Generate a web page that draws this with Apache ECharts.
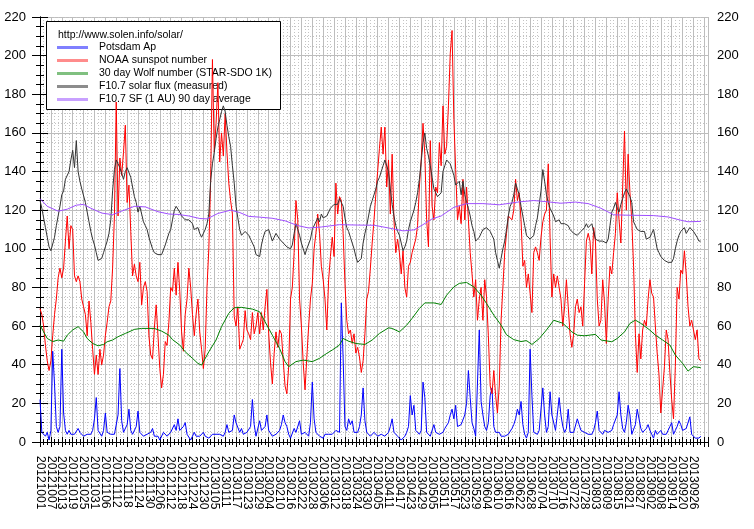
<!DOCTYPE html>
<html>
<head>
<meta charset="utf-8">
<title>Solar data</title>
<script src="https://cdn.jsdelivr.net/npm/echarts@6.0.0/dist/echarts.min.js"></script>
<style>
  html, body { margin: 0; padding: 0; background: #fff; }
  #chart { width: 754px; height: 529px; }
</style>
</head>
<body>
<div id="chart"></div>
<script>
// x tick labels, one every 6 days starting 20121001
const tickLabels = [
  '20121001','20121007','20121013','20121019','20121025','20121031','20121106','20121112','20121118','20121124',
  '20121130','20121206','20121212','20121218','20121224','20121230','20130105','20130111','20130117','20130123',
  '20130129','20130204','20130210','20130216','20130222','20130228','20130306','20130312','20130318','20130324',
  '20130330','20130405','20130411','20130417','20130423','20130429','20130505','20130511','20130517','20130523',
  '20130529','20130604','20130610','20130616','20130622','20130628','20130704','20130710','20130716','20130722',
  '20130728','20130803','20130809','20130815','20130821','20130827','20130902','20130908','20130914','20130920',
  '20130926'
];

const seriesNames = [
  'Potsdam Ap',
  'NOAA sunspot number',
  '30 day Wolf number (STAR-SDO 1K)',
  'F10.7 solar flux (measured)',
  'F10.7 SF (1 AU) 90 day average'
];

// daily values, day 0 = 20121001
const potsdamAp = [
  22,5,4,3,5,1,6,47,30,8, 5,8,48,15,6,4,6,4,3,4,
  5,7,5,4,3,4,4,3,4,6, 12,23,6,5,3,6,15,5,4,4,
  5,4,5,14,38,11,5,6,9,17, 6,4,5,8,16,5,4,3,3,4,
  3,5,7,3,2,3,1,2,5,4, 3,4,5,6,9,6,12,6,5,8,
  10,4,3,1,3,5,3,2,3,4, 5,3,2,2,3,4,3,4,5,4,
  3,3,5,9,5,4,6,14,10,9, 5,7,4,3,5,5,8,22,9,3,
  2,11,6,5,8,14,6,5,3,2, 4,5,6,9,14,10,8,4,2,3,
  7,5,6,11,4,3,5,4,3,10, 31,12,5,4,3,2,2,4,5,4,
  3,4,5,6,7,5,72,43,8,6, 12,9,11,5,4,5,8,14,28,11,
  5,4,3,4,5,4,3,3,4,5, 3,4,5,8,12,5,4,3,2,1,
  2,3,5,8,24,14,19,6,5,4, 6,31,23,5,4,3,4,9,5,4,
  4,5,5,7,6,10,14,17,12,19, 8,7,9,10,14,20,37,23,10,7,
  3,2,58,21,14,8,6,10,24,28, 8,5,4,5,3,2,3,3,4,5,
  7,9,12,17,14,21,9,4,2,5, 48,24,5,4,4,6,7,28,14,5,
  8,26,14,14,6,5,23,14,8,5, 7,17,5,5,5,6,12,9,6,5,
  5,4,4,5,4,6,10,16,6,5, 4,6,5,5,4,6,9,10,14,26,
  14,7,5,10,19,14,4,5,9,17, 12,7,5,6,7,9,6,4,2,6,
  4,3,6,4,3,4,6,8,10,4, 6,8,11,9,6,5,7,6,13,4,
  3,2,2,2,3
];

const sunspotNumber = [
  69,66,60,50,42,37,42,55,66,74, 85,90,85,90,104,117,100,112,110,86,
  83,86,83,74,70,66,55,73,62,48, 35,45,35,48,40,45,55,62,70,73,
  90,117,176,117,147,138,150,164,124,133, 109,86,92,86,83,93,71,80,83,78,
  55,45,43,59,71,55,38,28,35,52, 50,62,80,78,90,76,93,78,57,47,
  66,74,90,80,66,55,66,74,57,48, 38,48,80,100,135,198,150,165,186,145,
  160,148,170,150,134,125,118,65,60,70, 48,49,53,68,58,56,53,67,56,60,
  67,56,67,58,70,79,56,41,30,46, 57,49,58,56,42,29,25,39,74,80,
  98,125,115,74,60,41,27,44,60,74, 82,100,108,118,108,91,84,74,58,84,
  96,106,96,134,118,127,125,108,82,63, 56,58,51,56,46,49,44,36,42,56,
  74,78,90,103,115,128,140,152,163,149, 163,132,146,118,149,115,98,105,98,87,
  99,80,75,91,93,98,99,105,112,132, 146,165,149,115,101,156,122,115,132,129,
  155,143,174,149,153,174,201,213,167,141, 115,122,113,136,115,132,115,98,87,75,
  84,63,74,80,63,84,75,55,29,25, 37,24,15,29,63,80,98,108,117,118,
  115,120,136,125,129,115,91,94,80,87, 77,67,98,101,98,94,106,114,118,120,
  144,106,75,87,80,86,87,74,60,70, 84,70,56,49,56,70,74,67,70,60,
  82,104,108,104,87,111,104,74,60,63, 84,72,51,74,91,87,98,108,129,115,
  103,132,161,120,149,129,115,91,56,36, 56,43,58,63,60,74,84,77,75,60,
  46,35,15,27,39,58,53,36,22,12, 39,80,74,89,87,99,87,70,60,63,
  58,53,58,43,42
];

const solarFlux = [
  125,121,116,111,106,101,99,100,106,112, 117,122,128,130,136,135,140,146,151,142,
  156,140,135,131,130,124,119,114,109,105, 102,98,94,93,95,98,101,104,108,115,
  130,141,146,144,142,141,136,140,142,141, 137,132,127,124,119,122,118,114,112,110,
  106,103,100,98,97,97,97,97,98,102, 105,108,110,115,120,122,121,119,117,116,
  115,116,115,114,113,110,109,111,108,106, 105,110,113,118,135,144,150,157,163,167,
  171,174,171,164,158,153,143,134,122,116, 110,107,108,109,110,107,105,103,101,97,
  96,96,102,106,109,110,110,107,104,106, 108,107,105,104,103,102,101,100,100,102,
  108,113,110,107,103,100,97,100,100,105, 110,111,114,116,114,118,116,115,117,119,
  121,122,123,123,123,126,124,122,116,111, 109,106,103,100,96,93,93,95,103,108,
  112,117,122,125,128,131,135,137,140,143, 146,147,140,131,123,117,112,109,107,103,
  99,101,104,110,114,117,120,124,129,136, 145,155,160,152,148,143,137,131,129,127,
  128,129,140,143,146,145,144,141,138,133, 132,135,128,135,128,124,121,117,112,109,
  104,105,106,108,110,111,111,110,109,107, 105,98,94,90,95,100,104,110,117,122,
  124,128,134,131,128,122,117,112,107,106, 105,106,107,112,116,123,130,141,135,128,
  124,121,119,117,114,115,115,113,112,113, 114,112,110,109,108,107,107,108,109,110,
  111,113,111,110,113,109,105,105,104,104, 104,103,103,105,112,119,121,124,121,119,
  123,126,129,131,130,127,124,114,112,110, 109,109,109,109,105,104,106,108,110,105,
  100,98,96,95,94,93,93,92,93,95, 100,104,107,109,110,111,108,109,111,110,
  109,108,106,104,104
];

// smooth curves, read at the days listed
const wolfDays = [0,2,4,7,10,13,15,18,21,24,26,29,32,35,37,40,43,47,49,52,56,60,63,67,71,73,77,80,84,87,89,93,97,100,104,107,111,117,121,124,128,132,135,137,141,145,150,154,158,161,165,167,170,174,179,183,187,192,194,198,202,205,209,212,217,221,224,228,231,235,239,243,246,250,254,257,261,265,268,271,275,279,283,288,293,296,300,306,309,315,318,322,325,328,331,336,339,343,347,350,354,357,360,364];
const wolfNumber = [60.5,57,53.6,52,52.8,52.2,55.3,58,59.7,57,53.6,51,49.8,50.5,51.9,52.8,54.5,56.2,57,58.3,58.8,58.8,58.8,57.4,55.3,53,50.2,46.7,43.3,40.7,39.8,46.7,52.8,59.7,66.6,69.5,69.7,68.8,67.4,62.2,55.3,48.4,41.6,39,41.6,42.4,41.6,43.3,45.9,47.6,50.2,53.6,52.2,51,50.5,52.8,56.2,59.1,58.8,57,60.5,64,69.1,72,72,71.2,76,80.3,82.1,82.6,80.3,76,71.7,65.7,60.5,55.5,53,52,52.5,50.5,53.5,58,63,61.5,57,55.3,55,55.7,52.8,51.9,53.6,57,61.4,63.1,61.4,57.9,55.3,52.8,50.2,45,40.7,36.7,39,38.5];

const avgDays = [0,4,10,15,20,24,28,34,40,45,52,58,65,71,76,82,88,92,98,105,110,115,121,128,135,142,148,155,165,175,184,192,200,206,211,216,221,228,235,244,253,264,272,280,287,295,302,309,316,324,338,346,353,357,364];
const fluxAverage = [126,122,119.5,120.5,122.6,123,121,118.5,117.7,119.5,122,121.7,119.2,118,117.8,117,115.7,115.5,118.3,120,118.8,116.8,116.4,115.8,114.5,112,110.8,111.3,112.5,112.3,112.2,110.8,109.3,109.8,112.5,115.5,117,121.5,123.4,123.4,122.8,124.3,125,124.3,123.6,124.2,123.4,121,117.6,117.4,117.2,116.5,114.8,114,114.2];

const lineColors = ['#0000ff', '#ff0000', '#008000', '#333333', '#a050ff'];
const iconColors = ['#8080ff', '#ff8c8c', '#80c080', '#8c8c8c', '#c8a0ff'];

const FONT = 'Arial, "Liberation Sans", sans-serif';
const AXIS_DAYS = 369;
const byDay = vals => vals.map((v, i) => [i, v]);
const atDays = (days, vals) => days.map((d, i) => [d, vals[i]]);
// one category per day, the label only on every 6th day
const dayLabels = Array.from({ length: AXIS_DAYS }, (_, i) => (i % 6 === 0 && tickLabels[i / 6]) || '');

const chart = echarts.init(document.getElementById('chart'));

const xBase = {
  type: 'value',
  min: 0,
  max: AXIS_DAYS - 1,
  interval: 6,
  axisLine: { show: true, lineStyle: { color: '#000', width: 1 } },
  axisTick: { show: true, length: 5, lineStyle: { color: '#000' } },
  minorTick: { show: true, splitNumber: 3, length: 3, lineStyle: { color: '#000' } },
  axisLabel: { show: false }
};

const yBase = {
  type: 'value',
  min: 0,
  max: 220,
  interval: 20,
  axisLine: { show: true, lineStyle: { color: '#000', width: 1 } },
  axisTick: { show: true, length: 8, lineStyle: { color: '#000' } },
  minorTick: { show: true, splitNumber: 4, length: 4, lineStyle: { color: '#000' } }
};

const option = {
  animation: false,
  backgroundColor: '#fff',
  grid: { left: 40, right: 46, top: 17, bottom: 87 },
  xAxis: [
    Object.assign({}, xBase, {
      position: 'bottom',
      splitLine: { show: true, lineStyle: { color: '#bdbdbd', width: 1 } },
      minorSplitLine: { show: true, lineStyle: { color: '#c4c4c4', width: 1, type: [1, 2] } }
    }),
    Object.assign({}, xBase, {
      position: 'top',
      splitLine: { show: false }
    }),
    {
      type: 'category',
      position: 'bottom',
      data: dayLabels,
      boundaryGap: false,
      axisLine: { show: false },
      axisTick: { show: false },
      splitLine: { show: false },
      axisLabel: {
        interval: 0,
        rotate: -90,
        margin: 14,
        fontSize: 12,
        fontFamily: FONT,
        color: '#000'
      }
    }
  ],
  yAxis: [
    Object.assign({}, yBase, {
      position: 'left',
      axisLabel: { margin: 14, fontSize: 13, fontFamily: FONT, color: '#000' },
      splitLine: { show: true, lineStyle: { color: '#bdbdbd', width: 1 } },
      minorSplitLine: { show: true, lineStyle: { color: '#c4c4c4', width: 1, type: [1, 2] } }
    }),
    Object.assign({}, yBase, {
      position: 'right',
      axisLabel: { margin: 9, fontSize: 13, fontFamily: FONT, color: '#000' },
      splitLine: { show: false }
    })
  ],
  graphic: [
    {
      type: 'rect',
      z: 1,
      shape: { x: 46.5, y: 21.5, width: 234, height: 88 },
      style: { fill: '#fff', stroke: '#000', lineWidth: 1 }
    },
    {
      type: 'text',
      z: 3,
      x: 58,
      y: 35,
      style: {
        text: 'http://www.solen.info/solar/',
        font: '10.5px ' + FONT,
        fill: '#000',
        verticalAlign: 'middle'
      }
    }
  ],
  legend: {
    orient: 'vertical',
    left: 57,
    top: 41,
    z: 3,
    icon: 'rect',
    itemWidth: 31,
    itemHeight: 3,
    itemGap: 0,
    padding: 0,
    selectedMode: false,
    textStyle: { fontSize: 10.5, fontFamily: FONT, color: '#000', lineHeight: 13, padding: [0, 0, 0, 6] },
    data: seriesNames.map((name, i) => ({ name, itemStyle: { color: iconColors[i] } }))
  },
  series: [
    { data: byDay(potsdamAp) },
    { data: byDay(sunspotNumber) },
    { data: atDays(wolfDays, wolfNumber) },
    { data: byDay(solarFlux) },
    { data: atDays(avgDays, fluxAverage) }
  ].map((s, i) => Object.assign(s, {
    name: seriesNames[i],
    type: 'line',
    xAxisIndex: 0,
    yAxisIndex: 0,
    z: 5,
    symbol: 'none',
    lineStyle: { width: 1, color: lineColors[i] },
    itemStyle: { color: lineColors[i] }
  }))
};

chart.setOption(option);
</script>
</body>
</html>
